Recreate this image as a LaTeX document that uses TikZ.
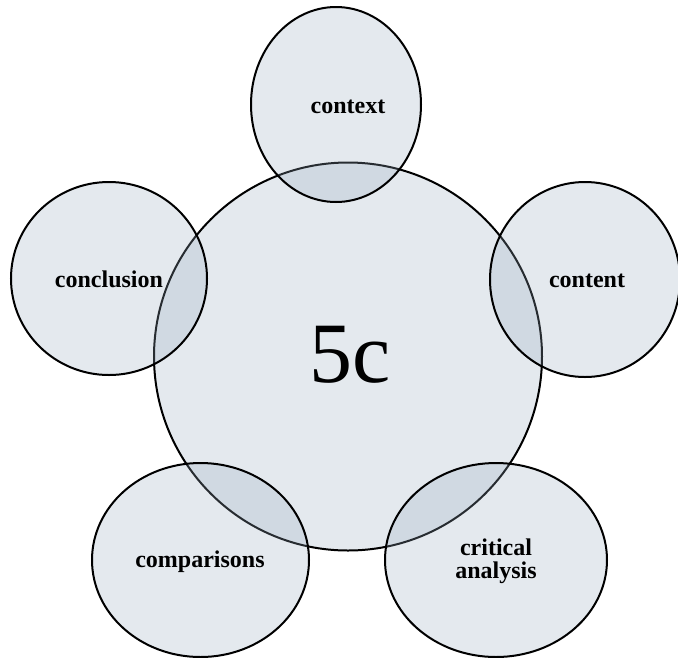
\documentclass[tikz,border=0pt]{standalone}
\usepackage{fontspec}
\setmainfont{Liberation Serif}
\definecolor{blobfill}{RGB}{151,170,190}
\tikzset{
  blob/.style={draw=black, line width=2pt, fill=blobfill, fill opacity=0.26},
  lbl/.style={font=\fontsize{24}{23}\selectfont\bfseries, inner sep=0pt, anchor=base, text opacity=1},
}
\begin{document}
\begin{tikzpicture}[x=1pt,y=-1pt]
\useasboundingbox (0,0) rectangle (678,657);
\path[blob] (348,356.5) circle[radius=194];
\path[blob] (336,104.5) ellipse[x radius=85, y radius=97.5];
\path[blob] (109,278.5) ellipse[x radius=98, y radius=96.5];
\path[blob] (585,279.5) ellipse[x radius=95, y radius=97.5];
\path[blob] (200.5,560) ellipse[x radius=108.5, y radius=97];
\path[blob] (496,560) ellipse[x radius=111, y radius=97];
\node[lbl] (context) at (348,113) {context};
\node[lbl] (conclusion) at (109,287) {conclusion};
\node[lbl] (content) at (587,287) {content};
\node[lbl] (comparisons) at (200,567) {comparisons};
\node[lbl] (critical) at (496,555) {critical};
\node[lbl] (analysis) at (496,578) {analysis};
\node[font=\fontsize{86}{86}\selectfont, inner sep=0pt, anchor=base] (center) at (350,382) {5c};
\end{tikzpicture}
\end{document}
